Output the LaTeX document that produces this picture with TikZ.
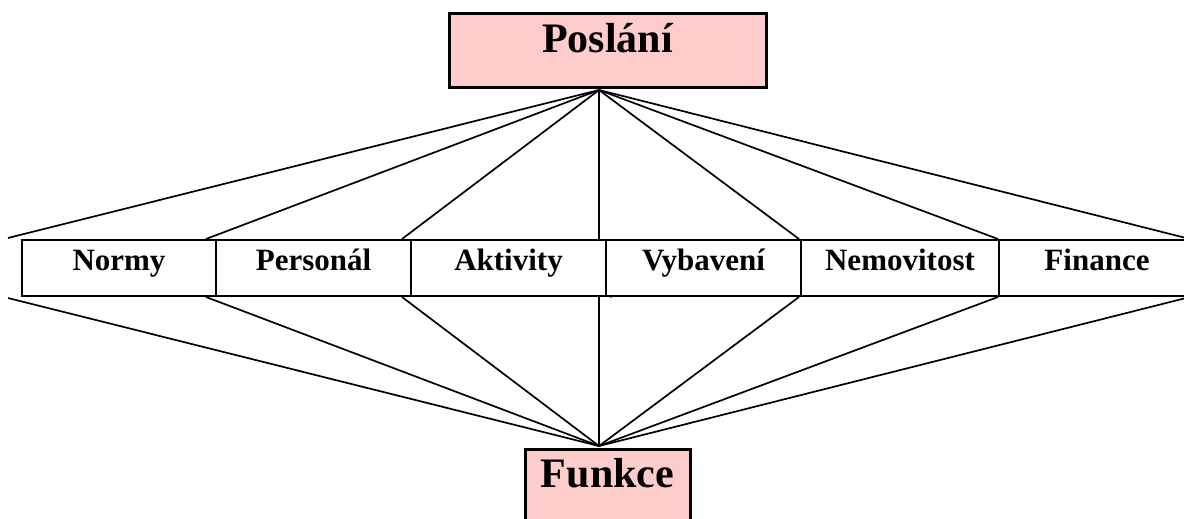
\documentclass[tikz,border=0pt]{standalone}
\usepackage{fontspec}
\setmainfont{Liberation Serif}
\definecolor{pinkfill}{HTML}{FFCCCC}
\begin{document}
\begin{tikzpicture}[x=1pt,y=-1pt,
  bigbox/.style={draw=black,line width=3pt,fill=pinkfill,inner sep=0pt,outer sep=0pt},
  cell/.style={draw=black,line width=2.2pt,minimum height=56pt,inner sep=0pt,outer sep=0pt,
    text height=15pt,text depth=10pt,font=\fontsize{31}{36}\selectfont\bfseries},
  conn/.style={line width=1.7pt}]
\useasboundingbox (0,0) rectangle (1184,519);
\begin{scope}
\clip (0,0) rectangle (1184,519);
% top and bottom boxes
\node[bigbox,minimum width=317pt,minimum height=74pt,text height=14pt,text depth=10pt,
  font=\fontsize{42}{48}\selectfont\bfseries] (top) at (607.5,51) {Poslání};
\node[bigbox,minimum width=165pt,minimum height=100pt,text height=10pt,text depth=34pt,
  font=\fontsize{42}{48}\selectfont\bfseries] (bot) at (607.5,499) {Funkce};
% row of cells
\node[cell,minimum width=194pt] (c1) at (119,268) {Normy};
\node[cell,minimum width=195pt] (c2) at (313.5,268) {Personál};
\node[cell,minimum width=195pt] (c3) at (508.5,268) {Aktivity};
\node[cell,minimum width=195pt] (c4) at (703.5,268) {Vybavení};
\node[cell,minimum width=198pt] (c5) at (900,268) {Nemovitost};
\node[cell,minimum width=196pt] (c6) at (1097,268) {Finance};
% apexes
\coordinate (ta) at (599,90);
\coordinate (ba) at (599,446);
% upper ends
\coordinate (u1) at (8,238);
\coordinate (u2) at (206,239);
\coordinate (u3) at (402,239);
\coordinate (u4) at (599,240);
\coordinate (u5) at (799,239);
\coordinate (u6) at (998,239);
\coordinate (u7) at (1190,239);
% lower ends
\coordinate (l1) at (8,298);
\coordinate (l2) at (206,297);
\coordinate (l3) at (402,297);
\coordinate (l4) at (599,297);
\coordinate (l5) at (799,297);
\coordinate (l6) at (998,297);
\coordinate (l7) at (1190,297);
\foreach \i in {1,...,7} {
  \draw[conn] (ta) -- (u\i);
  \draw[conn] (l\i) -- (ba);
}
\coordinate (tk) at (612,297);
\draw[line width=1.2pt] (c3.south east) -- (tk);
\end{scope}
\end{tikzpicture}
\end{document}
